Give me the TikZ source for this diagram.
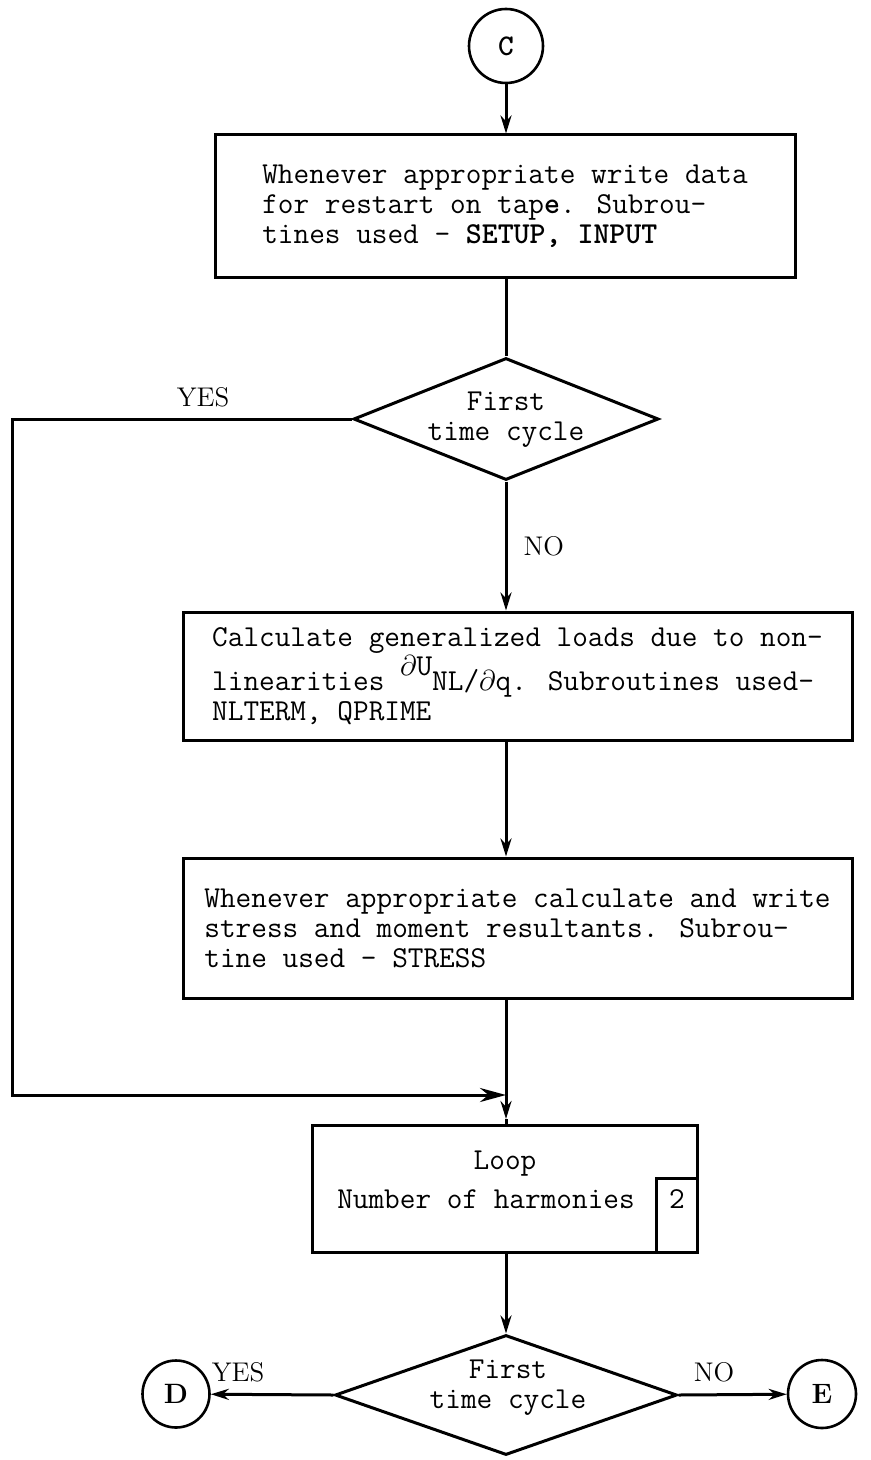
\documentclass[tikz,border=0pt]{standalone}
\usetikzlibrary{shapes.geometric,arrows.meta}
\newcommand\typefont{\fontsize{15.2}{15}\selectfont\ttfamily}
\begin{document}
\begin{tikzpicture}[x=0.5pt,y=-0.5pt,
  every node/.style={font=\typefont, inner sep=0pt},
  procbox/.style={draw, line width=1.5pt, align=left},
  decision/.style={diamond, draw, line width=1.5pt, inner sep=0pt},
  conncircle/.style={circle, draw, line width=1.3pt},
  conn/.style={line width=1.5pt},
  arr/.style={conn, -{Stealth[length=9pt,width=5.5pt]}},
  bigarr/.style={conn, -{Stealth[length=13pt,width=7pt]}},
  answer/.style={font=\fontsize{13.5}{13.5}\selectfont\rmfamily}]
\useasboundingbox (0,0) rectangle (871,1460);

% entry connector
\node[conncircle, minimum size=37pt, font=\fontsize{15}{15}\selectfont\ttfamily\bfseries] (C) at (506,46) {C};

% restart data
\node[procbox, minimum width=290pt, minimum height=71.5pt] (b1) at (505,206.5)
  {Whenever appropriate write data\\
   for restart on tap\textbf{e}. Subrou-\\
   tines used - \textbf{SETUP, INPUT}};

% first decision
\node[decision, minimum width=152.5pt, minimum height=61pt] (d1) at (506,419) {};
\node[align=center] (d1t) at (506,420) {First\\time cycle};

% nonlinear loads
\node[procbox, minimum width=334.5pt, minimum height=64pt] (b2) at (517.5,676)
  {Calculate generalized loads due to non-\\
   linearities \raisebox{0.5em}{$\partial$U}NL/$\partial$q. Subroutines used-\\
   NLTERM, QPRIME};

% stress output
\node[procbox, minimum width=334.5pt, minimum height=70pt] (b3) at (517.5,928)
  {Whenever appropriate calculate and write\\
   stress and moment resultants. Subrou-\\
   tine used - STRESS};

% harmonic loop
\node[draw, line width=1.5pt, minimum width=192.5pt, minimum height=63.5pt] (loop) at (504.5,1189) {};
\node (loopt) at (505,1164) {Loop};
\node (harm) at (486,1199) {Number of harmonies};
\node[draw, line width=1.5pt, anchor=south east, minimum width=20.5pt, minimum height=37pt] (n2) at (loop.south east) {};
\node (n2t) at (677,1199) {2};

% second decision
\node[decision, minimum width=171pt, minimum height=60pt] (d2) at (506,1395) {};
\node[align=center] (d2t) at (508,1388) {First\\time cycle};

% exit connectors
\node[conncircle, minimum size=33.5pt, font=\fontsize{14}{14}\selectfont\rmfamily\bfseries] (D) at (176,1394) {D};
\node[conncircle, minimum size=34pt, font=\fontsize{14}{14}\selectfont\rmfamily\bfseries] (E) at (822,1394) {E};

% routing points
\coordinate (lft) at (12,419);
\coordinate (jn) at (506,1095);
\coordinate (ah) at (506,1119);

% connectors
\draw[arr] (C) -- (C |- b1.north);
\draw[conn] (C |- b1.south) -- (d1.north);
\draw[arr] (d1.south) -- (d1.south |- b2.north)
  node[answer, pos=0.5, right=8pt] (no1) {NO};
\draw[arr] (d1.south |- b2.south) -- (d1.south |- b3.north);
\draw[conn] (jn |- b3.south) -- (jn);
\draw[bigarr] (d1.west) -- (lft) |- (jn);
\node[answer, above=6pt] (yes1) at (203,419) {YES};
\draw[arr] (jn) -- (ah);
\draw[conn] (ah) -- (ah |- loop.north);
\draw[arr] (ah |- loop.south) -- (d2.north);
\draw[arr] (d2.west) -- (D);
\draw[arr] (d2.east) -- (E);
\node[answer, above=6pt] (yes2) at (238,1394) {YES};
\node[answer, above=6pt] (no2) at (714,1394) {NO};
\end{tikzpicture}
\end{document}
